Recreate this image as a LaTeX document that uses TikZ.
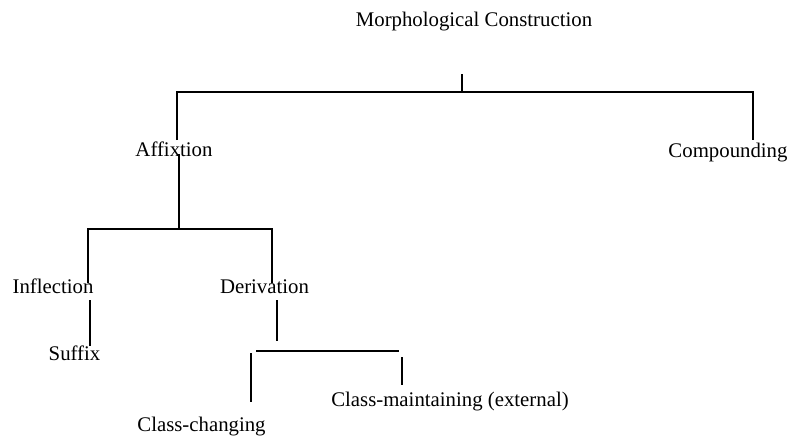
\documentclass[tikz,border=0pt]{standalone}
\usepackage{fontspec}
\setmainfont{Liberation Serif}
\begin{document}
\begin{tikzpicture}[x=0.75pt,y=-0.75pt,
  lbl/.style={inner sep=0pt, anchor=base, font=\fontsize{15.6}{18}\selectfont},
  ln/.style={line width=1.2pt}]
\useasboundingbox (0,0) rectangle (791,435);
% labels
\node[lbl] (mc) at (474,27) {Morphological Construction};
\node[lbl] (aff) at (174,156) {Affixtion};
\node[lbl] (comp) at (728,157) {Compounding};
\node[lbl] (infl) at (53,293) {Inflection};
\node[lbl] (der) at (264.5,293) {Derivation};
\node[lbl] (suf) at (74.5,360) {Suffix};
\node[lbl] (cm) at (450,406) {Class-maintaining (external)};
\node[lbl] (cc) at (201.5,431) {Class-changing};
% junction coordinates
\coordinate (t1) at (462,74);
\coordinate (t2) at (462,92);
\coordinate (h1l) at (177,92);
\coordinate (h1r) at (753,92);
\coordinate (a1) at (177,140);
\coordinate (c1) at (753,140);
\coordinate (a2) at (179,154);
\coordinate (a3) at (179,229);
\coordinate (h2l) at (88,229);
\coordinate (h2r) at (272,229);
\coordinate (i1) at (88,283);
\coordinate (d1) at (272,283);
\coordinate (i2) at (90,300);
\coordinate (i3) at (90,346);
\coordinate (d2) at (277,300);
\coordinate (d3) at (277,341);
\coordinate (h3l) at (256,351);
\coordinate (h3r) at (399,351);
\coordinate (cc1) at (251,353);
\coordinate (cc2) at (251,402);
\coordinate (cm1) at (402,357);
\coordinate (cm2) at (402,385);
% connectors
\draw[ln] (t1) -- (t2);
\draw[ln] (a1) -- (h1l) -- (h1r) -- (c1);
\draw[ln] (a2) -- (a3);
\draw[ln] (i1) -- (h2l) -- (h2r) -- (d1);
\draw[ln] (i2) -- (i3);
\draw[ln] (d2) -- (d3);
\draw[ln] (h3l) -- (h3r);
\draw[ln] (cc1) -- (cc2);
\draw[ln] (cm1) -- (cm2);
\end{tikzpicture}
\end{document}
